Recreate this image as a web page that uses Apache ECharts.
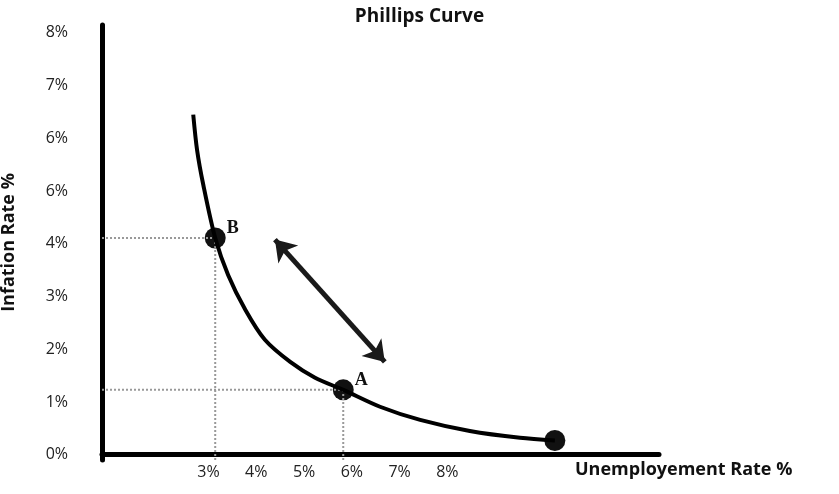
<!DOCTYPE html>
<html><head><meta charset="utf-8">
<script src="https://cdn.jsdelivr.net/npm/echarts@6/dist/echarts.min.js"></script>
<style>html,body{margin:0;padding:0;background:#fff}#main{width:839px;height:494px}</style>
</head><body><div id="main"></div>
<script>
// curve (unemployment %, inflation %)
var curveX = [2.68, 2.76, 2.89, 3.14, 3.41, 3.77, 4.18, 4.71, 5.23, 5.82, 6.59, 7.43, 8.47, 9.52, 10.25];
var curveY = [6.45, 5.78, 5.12, 4.11, 3.41, 2.75, 2.18, 1.76, 1.46, 1.23, 0.91, 0.66, 0.45, 0.32, 0.27];
var pointNames = ['B', 'A', ''];
var pointX = [3.14, 5.82, 10.25];
var pointY = [4.11, 1.23, 0.27];
var yLabels = ['0%', '1%', '2%', '3%', '4%', '6%', '6%', '7%', '8%'];
var xTicks = [3, 4, 5, 6, 7, 8];
var arrowFrom = [4.39, 4.08];
var arrowTo = [6.69, 1.76];

var chart = echarts.init(document.getElementById('main'));
var dotted = {color: '#999', type: 'dotted', width: 2};
var guides = [];
for (var i = 0; i < 2; i++) {
    guides.push({type: 'line', data: [[0.77, pointY[i]], [pointX[i], pointY[i]]], lineStyle: dotted, symbol: 'none', silent: true});
    guides.push({type: 'line', data: [[pointX[i], -0.1], [pointX[i], pointY[i]]], lineStyle: dotted, symbol: 'none', silent: true});
}
var option = {
    animation: false,
    title: {text: 'Phillips Curve', left: 'center', top: 2,
        textStyle: {fontFamily: 'Open Sans', fontWeight: 'bold', fontSize: 19, color: '#111'}},
    grid: {left: 102, right: 180, top: 25, bottom: 34, outerBoundsMode: 'none', containLabel: false},
    xAxis: {
        type: 'value', min: 0.77, max: 12.43,
        name: 'Unemployement Rate %', nameLocation: 'end', nameGap: -84,
        nameTextStyle: {fontFamily: 'Open Sans', fontWeight: 'bold', fontSize: 18, color: '#111',
            verticalAlign: 'top', padding: [6, 0, 0, 0], align: 'left'},
        axisLine: {lineStyle: {color: '#000', width: 5}},
        axisTick: {show: false}, splitLine: {show: false},
        axisLabel: {customValues: xTicks, formatter: '{value}%', color: '#222', fontSize: 16, fontFamily: 'Open Sans', margin: 4}
    },
    yAxis: {
        type: 'value', min: -0.1, max: 8.15,
        name: 'Infation Rate %', nameLocation: 'middle', nameGap: 84,
        nameTextStyle: {fontFamily: 'Open Sans', fontWeight: 'bold', fontSize: 18, color: '#111'},
        axisLine: {show: true, lineStyle: {color: '#000', width: 5}},
        axisTick: {show: false}, splitLine: {show: false},
        axisLabel: {customValues: [0, 1, 2, 3, 4, 5, 6, 7, 8], color: '#222', fontSize: 16, fontFamily: 'Open Sans', margin: 34,
            formatter: function (v) { return yLabels[Math.round(v)]; }}
    },
    series: guides.concat([
        {type: 'line', smooth: 0.3, symbol: 'none', lineStyle: {color: '#000', width: 4},
            data: curveX.map(function (x, i) { return [x, curveY[i]]; })},
        {type: 'scatter', symbolSize: 21, itemStyle: {color: '#111', opacity: 1},
            label: {show: true, position: [22, -8], formatter: function (p) { return pointNames[p.dataIndex]; },
                fontFamily: 'Liberation Serif', fontWeight: 'bold', fontSize: 18, color: '#111'},
            data: pointX.map(function (x, i) { return [x, pointY[i]]; })},
        {type: 'lines', coordinateSystem: 'cartesian2d', symbol: ['arrow', 'arrow'], symbolSize: 20,
            lineStyle: {color: '#1a1a1a', width: 5, opacity: 1},
            data: [{coords: [arrowFrom, arrowTo]}]}
    ])
};
chart.setOption(option);
</script></body></html>
